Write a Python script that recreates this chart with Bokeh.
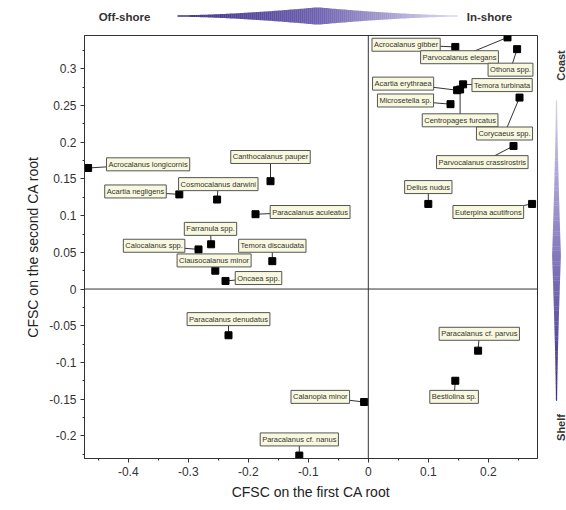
import math
from bokeh.plotting import figure
from bokeh.models import Range1d, Label, Span, SingleIntervalTicker, CustomJSTickFormatter
from bokeh.layouts import row, column
from bokeh.embed import file_html
from bokeh.resources import INLINE
from bokeh.core.properties import value

# ---------------- data ----------------
species = [
    "Acrocalanus longicornis", "Canthocalanus pauper", "Acartia negligens",
    "Cosmocalanus darwini", "Paracalanus aculeatus", "Farranula spp.",
    "Calocalanus spp.", "Temora discaudata", "Clausocalanus minor",
    "Oncaea spp.", "Paracalanus denudatus", "Calanopia minor",
    "Paracalanus cf. nanus", "Paracalanus cf. parvus", "Bestiolina sp.",
    "Acrocalanus gibber", "Parvocalanus elegans", "Othona spp.",
    "Acartia erythraea", "Temora turbinata", "Microsetella sp.",
    "Centropages furcatus", "Corycaeus spp.", "Parvocalanus crassirostris",
    "Delius nudus", "Euterpina acutifrons",
]
cfsc_first = [
    -0.467, -0.163, -0.315, -0.252, -0.188, -0.262, -0.283, -0.160, -0.255,
    -0.238, -0.233, -0.007, -0.115, 0.183, 0.145, 0.145, 0.232, 0.248,
    0.148, 0.158, 0.137, 0.153, 0.252, 0.242, 0.100, 0.273,
]
cfsc_second = [
    0.165, 0.147, 0.129, 0.122, 0.102, 0.061, 0.054, 0.038, 0.025,
    0.011, -0.063, -0.154, -0.227, -0.084, -0.125, 0.330, 0.343, 0.327,
    0.271, 0.279, 0.252, 0.272, 0.261, 0.195, 0.116, 0.116,
]
# label box centres (layout)
label_x = [
    -0.367, -0.163, -0.388, -0.250, -0.097, -0.263, -0.357, -0.160, -0.257,
    -0.183, -0.233, -0.080, -0.115, 0.185, 0.143, 0.063, 0.152, 0.237,
    0.058, 0.223, 0.062, 0.153, 0.227, 0.190, 0.100, 0.200,
]
label_y = [
    0.170, 0.180, 0.133, 0.143, 0.105, 0.082, 0.059, 0.059, 0.039,
    0.015, -0.041, -0.147, -0.205, -0.061, -0.147, 0.333, 0.316, 0.299,
    0.280, 0.278, 0.257, 0.230, 0.212, 0.173, 0.139, 0.105,
]

FONT = "Liberation Sans"


def hex2rgb(h):
    h = h.lstrip("#")
    return tuple(int(h[i:i + 2], 16) for i in (0, 2, 4))


def lerp_color(stops, u):
    for (u0, c0), (u1, c1) in zip(stops[:-1], stops[1:]):
        if u <= u1:
            t = 0 if u1 == u0 else (u - u0) / (u1 - u0)
            a, b = hex2rgb(c0), hex2rgb(c1)
            return "#%02x%02x%02x" % tuple(int(round(a[i] + (b[i] - a[i]) * t)) for i in range(3))
    return stops[-1][1]


# ---------------- main figure ----------------
p = figure(width=539, height=469, output_backend="svg", toolbar_location=None,
           x_range=Range1d(-0.473, 0.282), y_range=Range1d(-0.231, 0.3456),
           min_border_left=84, min_border_right=2, min_border_top=2, min_border_bottom=43)
p.xgrid.visible = False
p.ygrid.visible = False
p.outline_line_color = "#333333"
p.outline_line_width = 1
p.background_fill_color = "white"
p.border_fill_color = "white"

p.xaxis.ticker = SingleIntervalTicker(interval=0.1, num_minor_ticks=2)
p.yaxis.ticker = SingleIntervalTicker(interval=0.05, num_minor_ticks=2)
fmt = CustomJSTickFormatter(code="""
let s = tick.toFixed(2);
s = s.replace(/0+$/, '').replace(/\\.$/, '');
if (s === '-0') s = '0';
return s;
""")
p.xaxis.formatter = fmt
p.yaxis.formatter = fmt
for ax in (p.xaxis, p.yaxis):
    ax.axis_line_color = "#333333"
    ax.major_tick_line_color = "#333333"
    ax.minor_tick_line_color = "#333333"
    ax.major_tick_in = 0
    ax.major_tick_out = 4
    ax.minor_tick_in = 0
    ax.minor_tick_out = 2
    ax.major_label_text_font = FONT
    ax.major_label_text_font_size = "12px"
    ax.major_label_text_color = "#333333"
    ax.axis_label_text_font = FONT
    ax.axis_label_text_font_size = "14px"
    ax.axis_label_text_font_style = "normal"
    ax.axis_label_text_color = "#222222"
    ax.major_label_standoff = 4
    ax.axis_label_standoff = 5
p.xaxis.axis_label = "CFSC on the first CA root"
p.yaxis.axis_label = "CFSC on the second CA root"

p.add_layout(Span(location=0, dimension="height", line_color="#333333", line_width=1))
p.add_layout(Span(location=0, dimension="width", line_color="#333333", line_width=1))

# leader lines
p.segment(x0=label_x, y0=label_y, x1=cfsc_first, y1=cfsc_second,
          line_color="#333333", line_width=1)
# points
p.scatter(x=cfsc_first, y=cfsc_second, marker="square", size=7,
          fill_color="black", line_color="black")

# labels (shadow + box)
for name, lx, ly in zip(species, label_x, label_y):
    p.add_layout(Label(x=lx, y=ly, text=name, text_align="center", text_baseline="middle",
                       x_offset=1.5, y_offset=-1.5,
                       text_font=FONT, text_font_size="7.5px", text_alpha=0.0,
                       background_fill_color="#777777", background_fill_alpha=0.8,
                       border_line_color="#777777", border_line_alpha=0.8,
                       border_line_width=1, padding=2))
    p.add_layout(Label(x=lx, y=ly, text=name, text_align="center", text_baseline="middle",
                       text_font=FONT, text_font_size="7.5px", text_color="#333333",
                       background_fill_color="#f8f8df", background_fill_alpha=1.0,
                       border_line_color="#555555", border_line_width=1, padding=2))

# ---------------- top strip (frame aligned with main frame: page x 84..537) ----------------
top = figure(width=539, height=33, output_backend="svg", toolbar_location=None,
             x_range=Range1d(84, 537), y_range=Range1d(-33, 0),
             x_axis_location=None, y_axis_location=None, min_border=0)
top.xgrid.visible = False
top.ygrid.visible = False
top.outline_line_color = None
hstops = [(0.0, "#3d3087"), (0.5, "#7062b0"), (1.0, "#dcdaf0")]
L, R, C = 177.0, 457.0, 317.0
n = 140
lefts, rights, tops_, bots, cols = [], [], [], [], []
for i in range(n):
    x0 = L + (R - L) * i / n
    x1 = L + (R - L) * (i + 1) / n
    xc = 0.5 * (x0 + x1)
    t = (xc - L) / (C - L) if xc <= C else (R - xc) / (R - C)
    h = 0.7 + 8.0 * t ** 1.6
    lefts.append(x0)
    rights.append(x1 + 0.3)
    tops_.append(-(15.5 - h))
    bots.append(-(15.5 + h))
    cols.append(lerp_color(hstops, (xc - L) / (R - L)))
top.quad(left=lefts, right=rights, top=tops_, bottom=bots, fill_color=cols, line_color=None)
top.text(x=[124, 489], y=[-16, -16], text=["Off-shore", "In-shore"], text_align="center",
         text_baseline="middle", text_font=value(FONT), text_font_size="11.5px",
         text_font_style="bold", text_color="#333333")

# ---------------- right strip ----------------
right = figure(width=27, height=502, output_backend="svg", toolbar_location=None,
               x_range=Range1d(539, 566), y_range=Range1d(-502, 0),
               x_axis_location=None, y_axis_location=None, min_border=0)
right.xgrid.visible = False
right.ygrid.visible = False
right.outline_line_color = None
vstops = [(0.0, "#d4d0ea"), (0.45, "#8e83c4"), (1.0, "#3a2d85")]
T, B, M = 100.0, 400.0, 255.0
lefts, rights, tops_, bots, cols = [], [], [], [], []
for i in range(n):
    y0 = T + (B - T) * i / n
    y1 = T + (B - T) * (i + 1) / n
    yc = 0.5 * (y0 + y1)
    t = (yc - T) / (M - T) if yc <= M else (B - yc) / (B - M)
    w = 0.6 + 3.8 * t ** 1.4
    lefts.append(556 - w)
    rights.append(556 + w)
    tops_.append(-y0)
    bots.append(-y1 - 0.3)
    cols.append(lerp_color(vstops, (yc - T) / (B - T)))
right.quad(left=lefts, right=rights, top=tops_, bottom=bots, fill_color=cols, line_color=None)
right.text(x=[560, 560], y=[-65, -427], text=["Coast", "Shelf"], angle=math.pi / 2,
           text_align="center", text_baseline="middle", text_font=value(FONT),
           text_font_size="11px", text_font_style="bold", text_color="#333333")

layout = row(column(top, p, spacing=0), right, spacing=0)
open("out.html", "w").write(file_html(layout, INLINE))
